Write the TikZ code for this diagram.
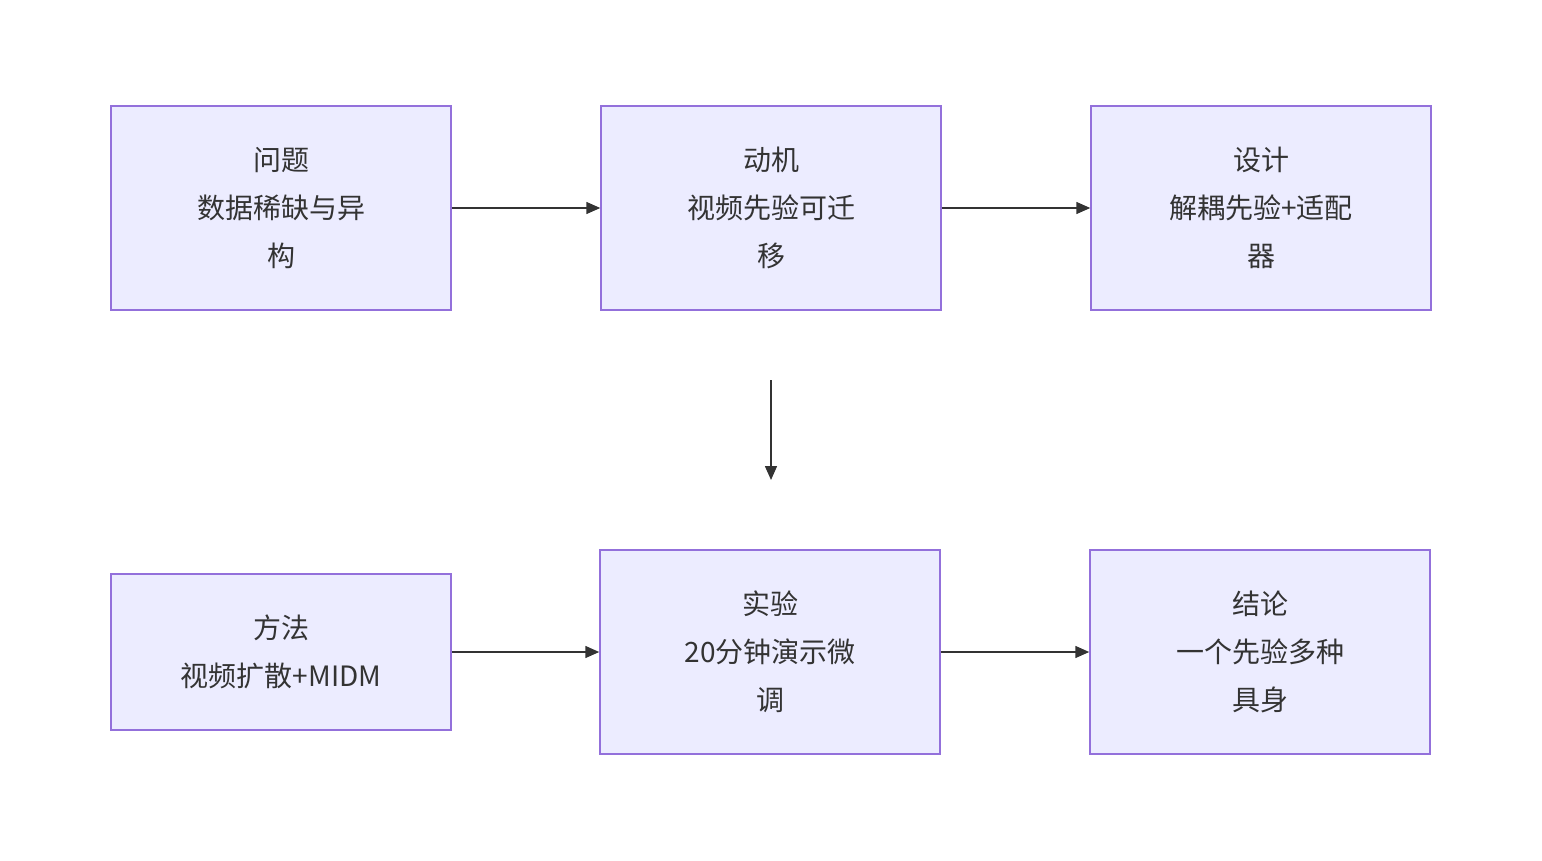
\documentclass[tikz,border=0pt]{standalone}
\usepackage{fontspec}
\setmainfont{Noto Sans CJK SC}
\usetikzlibrary{arrows.meta}
\definecolor{bfill}{HTML}{ECECFF}
\definecolor{bdraw}{HTML}{9370DB}
\definecolor{txt}{HTML}{333333}
\begin{document}
\begin{tikzpicture}[x=1pt,y=-1pt,
 box/.style={draw=bdraw,fill=bfill,line width=1.5pt,inner sep=0pt,align=center,text=txt,
   font=\fontsize{28}{48}\selectfont},
 arr/.style={draw=txt,line width=1.5pt,-{Triangle[length=14pt,width=12pt]}}]
\useasboundingbox (0,0) rectangle (1542,860);
\node[box,minimum width=340pt,minimum height=204pt] (a) at (281,208) {问题\\数据稀缺与异\\构};
\node[box,minimum width=340pt,minimum height=204pt] (b) at (771,208) {动机\\视频先验可迁\\移};
\node[box,minimum width=340pt,minimum height=204pt] (c) at (1261,208) {设计\\解耦先验+适配\\器};
\node[box,minimum width=340pt,minimum height=156pt] (d) at (281,652) {方法\\视频扩散+MIDM};
\node[box,minimum width=340pt,minimum height=204pt] (e) at (770,652) {实验\\20分钟演示微\\调};
\node[box,minimum width=340pt,minimum height=204pt] (f) at (1260,652) {结论\\一个先验多种\\具身};
\coordinate (v1) at (771,380);
\coordinate (v2) at (771,480);
\draw[arr] (a) -- (b);
\draw[arr] (b) -- (c);
\draw[arr] (v1) -- (v2);
\draw[arr] (d) -- (e);
\draw[arr] (e) -- (f);
\end{tikzpicture}
\end{document}
